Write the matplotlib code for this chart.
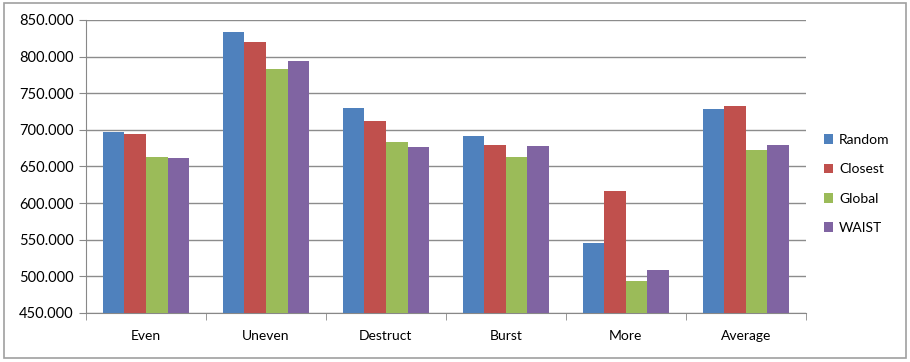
import numpy as np
import matplotlib.pyplot as plt
from matplotlib.patches import Rectangle
from matplotlib.ticker import FuncFormatter

plt.rcParams['font.family'] = ['Lato', 'DejaVu Sans']

categories = ["Even", "Uneven", "Destruct", "Burst", "More", "Average"]
series = ["Random", "Closest", "Global", "WAIST"]
random_vals = [697.5, 833.0, 729.5, 691.0, 546.0, 728.5]
closest_vals = [695.0, 820.0, 712.5, 680.0, 616.0, 732.5]
global_vals = [663.5, 783.0, 684.0, 663.0, 493.0, 673.0]
waist_vals = [661.5, 794.0, 677.0, 678.0, 509.0, 680.0]
colors = ["#4F81BD", "#C0504D", "#9BBB59", "#8064A2"]

fig = plt.figure(figsize=(9.1, 3.62), dpi=100)
ax = fig.add_axes([0.0945, 0.1354, 0.791, 0.8094])

x = np.arange(len(categories))
w = 0.18
for i, (vals, name) in enumerate(zip([random_vals, closest_vals, global_vals, waist_vals], series)):
    ax.bar(x + (i - 1.5) * w, vals, w, color=colors[i], label=name, zorder=3)

ax.set_xlim(-0.5, len(categories) - 0.5)
ax.set_ylim(450, 850)
ax.set_yticks(np.arange(450, 851, 50))
ax.yaxis.set_major_formatter(FuncFormatter(lambda v, p: f"{v:.3f}"))
ax.set_xticks(x)
ax.set_xticklabels(categories)
ax.set_xticks(np.arange(-0.5, len(categories), 1), minor=True)
ax.tick_params(axis='x', which='major', length=0, pad=12, labelsize=10)
ax.tick_params(axis='x', which='minor', length=5, color='#888888', direction='out')
ax.tick_params(axis='y', length=5, color='#888888', labelsize=10.5, pad=4)
ax.grid(axis='y', color='#8c8c8c', linewidth=1, zorder=0)
for side in ['top', 'right']:
    ax.spines[side].set_visible(False)
for side in ['left', 'bottom']:
    ax.spines[side].set_color('#888888')

ax.legend(loc='center left', bbox_to_anchor=(1.017, 0.44), frameon=False,
          handlelength=0.7, handleheight=0.7, handletextpad=0.4,
          labelspacing=1.25, fontsize=10, borderaxespad=0)

fig.patches.append(Rectangle((0.004, 0.012), 0.992, 0.98, transform=fig.transFigure,
                             fill=False, edgecolor='#a0a0a0', linewidth=1.2))

fig.savefig("out.png", dpi=100)
